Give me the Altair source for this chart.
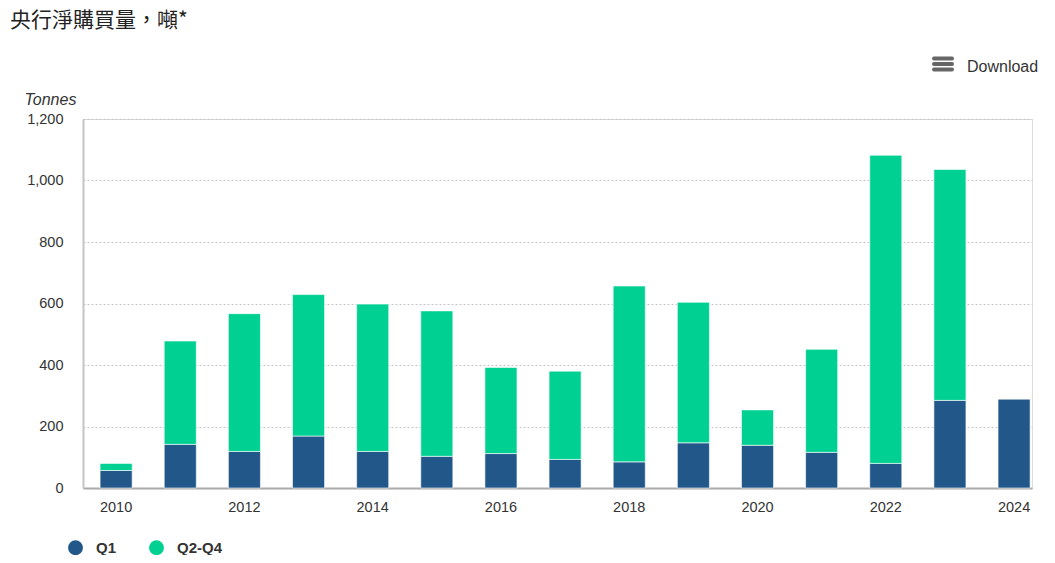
import altair as alt
import pandas as pd

years = list(range(2010, 2025))
q1 = [57, 142, 119, 169, 119, 103, 112, 93, 85, 147, 139, 116, 80, 285, 289]
q2_q4 = [23, 336, 448, 460, 479, 473, 280, 287, 572, 457, 115, 335, 1002, 751, None]
series_names = ["Q1", "Q2-Q4"]
series_colors = ["#22578a", "#00d092"]

rows = []
for i, y in enumerate(years):
    rows.append({"year": y, "series": "Q1", "value": q1[i], "ord": 0})
    if q2_q4[i] is not None:
        rows.append({"year": y, "series": "Q2-Q4", "value": q2_q4[i], "ord": 1})
df = pd.DataFrame(rows)

FONT = "Liberation Sans"

bars = alt.Chart(df).mark_bar(stroke="white", strokeWidth=1, strokeOpacity=0.6).encode(
    x=alt.X("year:O", title=None,
            scale=alt.Scale(paddingInner=0.5, paddingOuter=0.148, align=0.9),
            axis=alt.Axis(labelAngle=0, labelFontSize=14.5, labelColor="#333333", labelFont=FONT,
                          labelPadding=12, ticks=False, domainColor="#aaaaaa", domainWidth=2,
                          labelExpr="datum.value % 2 == 0 ? datum.label : ''")),
    y=alt.Y("value:Q", stack="zero",
            scale=alt.Scale(domain=[0, 1200], nice=False),
            axis=alt.Axis(values=[0, 200, 400, 600, 800, 1000, 1200], format=",d",
                          title="Tonnes", titleAngle=0, titleX=-59, titleY=-20,
                          titleAlign="left", titleBaseline="middle", titleFontStyle="italic",
                          titleFontWeight="normal", titleFontSize=16, titleColor="#333333",
                          titleFont=FONT, labelFontSize=14.5, labelColor="#333333", labelFont=FONT,
                          labelPadding=20, ticks=False, domainColor="#c4c4c4", domainWidth=2,
                          grid=True, gridColor="#c4c4c4", gridDash=[2, 2], gridWidth=1)),
    color=alt.Color("series:N", scale=alt.Scale(domain=series_names, range=series_colors),
                    legend=alt.Legend(title=None, orient="none", legendX=-15, legendY=421,
                                      direction="horizontal", symbolType="circle", symbolSize=220,
                                      symbolStrokeWidth=0, labelFontSize=15, labelFontWeight="bold",
                                      labelColor="#333333", labelFont=FONT, labelOffset=13,
                                      columnPadding=32, padding=0)),
    order=alt.Order("ord:Q"),
)

dummy = pd.DataFrame({"_": [0]})

title = alt.Chart(dummy).mark_text(align="left", baseline="middle", fontSize=21,
                                   font="Noto Sans CJK TC", color="#222222").encode(
    x=alt.value(-73), y=alt.value(-98), text=alt.value("央行淨購買量，噸*"))

download = alt.Chart(dummy).mark_text(align="left", baseline="middle", fontSize=16,
                                      font=FONT, color="#333333").encode(
    x=alt.value(884), y=alt.value(-52), text=alt.value("Download"))

icon_layers = []
for yy in [-60.5, -55, -49.5]:
    icon_layers.append(
        alt.Chart(dummy).mark_rule(strokeWidth=4, strokeCap="round", color="#666666").encode(
            x=alt.value(851), x2=alt.value(869), y=alt.value(yy))
    )

chart = alt.layer(bars, title, download, *icon_layers).properties(
    width=949, height=369,
    autosize=alt.AutoSizeParams(type="none"),
    padding={"left": 75, "top": 111, "right": 15, "bottom": 67},
).configure_view(stroke=None).configure(background="white")

chart.save("out.html", embed_options={"renderer": "svg", "actions": False})
